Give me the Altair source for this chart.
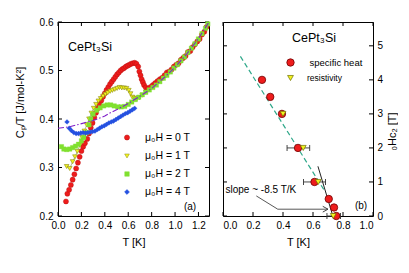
import altair as alt
import pandas as pd

FONT = "Liberation Sans"

# ---------------- Left panel: Cp/T vs T ----------------
red_T = [0.068, 0.08, 0.095, 0.11, 0.125, 0.14, 0.155, 0.17, 0.185, 0.2, 0.215, 0.23, 0.25, 0.265,
         0.28, 0.295, 0.31, 0.325, 0.34, 0.355, 0.37, 0.385, 0.4, 0.415, 0.43, 0.445, 0.46, 0.475,
         0.49, 0.505, 0.52, 0.535, 0.55, 0.565, 0.58, 0.595, 0.61, 0.625, 0.64, 0.655, 0.67, 0.685,
         0.695, 0.705, 0.715, 0.725, 0.735, 0.75, 0.77, 0.79, 0.81, 0.83, 0.85, 0.87, 0.89, 0.91,
         0.93, 0.95, 0.97, 0.99, 1.01, 1.03, 1.05, 1.07, 1.09, 1.11, 1.13, 1.15, 1.17, 1.19, 1.21,
         1.23, 1.25, 1.27]
red_v = [0.230, 0.246, 0.254, 0.264, 0.275, 0.286, 0.298, 0.310, 0.322, 0.334, 0.343, 0.350, 0.359, 0.370,
         0.382, 0.392, 0.403, 0.413, 0.422, 0.430, 0.438, 0.446, 0.453, 0.460, 0.466, 0.472, 0.477, 0.482,
         0.487, 0.492, 0.496, 0.500, 0.503, 0.505, 0.508, 0.510, 0.512, 0.514, 0.515, 0.516, 0.514, 0.508,
         0.498, 0.490, 0.482, 0.476, 0.470, 0.465, 0.463, 0.466, 0.470, 0.474, 0.478, 0.482, 0.485, 0.490,
         0.496, 0.498, 0.502, 0.508, 0.512, 0.515, 0.522, 0.526, 0.530, 0.538, 0.540, 0.548, 0.554, 0.560, 0.565,
         0.574, 0.580, 0.590]

yel_T = [0.074, 0.1, 0.125, 0.145, 0.165, 0.187, 0.205, 0.225, 0.245, 0.265, 0.285, 0.305, 0.325, 0.345,
         0.365, 0.385, 0.405, 0.425, 0.445, 0.465, 0.485, 0.505, 0.525, 0.545, 0.565, 0.585, 0.605, 0.62,
         0.635, 0.655, 0.675, 0.695, 0.72, 0.75]
yel_v = [0.302, 0.298, 0.312, 0.322, 0.333, 0.346, 0.362, 0.375, 0.388, 0.400, 0.412, 0.422, 0.430, 0.437,
         0.442, 0.447, 0.451, 0.454, 0.457, 0.459, 0.461, 0.463, 0.465, 0.464, 0.464, 0.463, 0.459, 0.452,
         0.445, 0.443, 0.442, 0.444, 0.449, 0.455]

grn_T = [0.03, 0.05, 0.074, 0.1, 0.125, 0.15, 0.175, 0.2, 0.22, 0.244, 0.265, 0.28, 0.3, 0.33, 0.36, 0.39,
         0.42, 0.45, 0.48, 0.51, 0.54, 0.57, 0.6, 0.63, 0.66, 0.69, 0.72, 0.75, 0.78, 0.81, 0.84, 0.87,
         0.9, 0.93, 0.96, 0.99, 1.02, 1.05, 1.08, 1.11, 1.14, 1.17, 1.2, 1.23, 1.26, 1.28]
grn_v = [0.343, 0.338, 0.337, 0.338, 0.341, 0.344, 0.348, 0.355, 0.362, 0.372, 0.388, 0.400, 0.410, 0.418,
         0.423, 0.427, 0.429, 0.429, 0.427, 0.425, 0.425, 0.426, 0.430, 0.435, 0.440, 0.445, 0.450, 0.455,
         0.460, 0.465, 0.470, 0.477, 0.484, 0.490, 0.497, 0.505, 0.512, 0.520, 0.528, 0.537, 0.546, 0.555,
         0.565, 0.576, 0.587, 0.596]

blu_T = [0.077, 0.096, 0.115, 0.135, 0.155, 0.175, 0.195, 0.215, 0.235, 0.255, 0.275, 0.295, 0.315, 0.335,
         0.355, 0.375, 0.395, 0.415, 0.435, 0.455, 0.475, 0.495, 0.515, 0.535, 0.555, 0.575, 0.595, 0.615,
         0.635, 0.655]
blu_v = [0.394, 0.381, 0.376, 0.372, 0.370, 0.370, 0.371, 0.372, 0.371, 0.372, 0.373, 0.374, 0.375, 0.378,
         0.381, 0.384, 0.386, 0.389, 0.392, 0.394, 0.396, 0.399, 0.402, 0.405, 0.408, 0.411, 0.413, 0.416,
         0.419, 0.422]

fitL_T = [0.0, 0.1, 0.21, 0.3, 0.4, 0.44, 0.5, 0.6, 0.64, 0.7, 0.8, 0.9, 0.95, 1.0, 1.1, 1.2, 1.285]
fitL_v = [0.381, 0.384, 0.391, 0.397, 0.406, 0.412, 0.419, 0.432, 0.438, 0.447, 0.463, 0.484, 0.495,
          0.507, 0.534, 0.566, 0.598]

legendL_labels = ["μ₀H = 0 T", "μ₀H = 1 T", "μ₀H = 2 T", "μ₀H = 4 T"]
xL_ticks = [0.0, 0.2, 0.4, 0.6, 0.8, 1.0, 1.2]
yL_ticks = [0.2, 0.3, 0.4, 0.5, 0.6]

# ---------------- Right panel: Hc2 vs T ----------------
sh_T = [0.26, 0.315, 0.393, 0.50, 0.61, 0.705, 0.74, 0.755]
sh_H = [4.0, 3.5, 3.0, 2.0, 1.0, 0.5, 0.25, 0.0]
res_T = [0.40, 0.535, 0.635, 0.735]
res_H = [3.0, 2.0, 1.0, 0.0]
eb_H = [2.0, 1.0, 0.0]
eb_lo = [0.427, 0.537, 0.693]
eb_hi = [0.578, 0.683, 0.783]
fitR_T = [0.116, 0.683]
fitR_H = [4.69, 0.70]
slope_T = [0.633, 0.731]
slope_H = [1.46, 0.02]
arrow_T = [0.222, 0.365, 0.700]
arrow_H = [0.59, 0.20, 0.20]
legendR_labels = ["specific heat", "resistivity"]
xR_ticks = [0.0, 0.2, 0.4, 0.6, 0.8, 1.0]
yR_ticks = [0, 1, 2, 3, 4, 5]

RED = "#ee1c1c"
YEL = "#f2f21e"
YEL_S = "#8c8c14"
GRN = "#80e030"
BLU = "#2450e0"
PUR = "#8020c8"
TEAL = "#2fa88a"

WL, HL = 151, 194
WR, HR = 150, 194
TK = 4

# ---- left encodings ----
sxL = alt.Scale(domain=[0, 1.29], nice=False, zero=False)
syL = alt.Scale(domain=[0.2, 0.6], nice=False, zero=False)
axL = alt.Axis(values=xL_ticks, format=".1f", title="T [K]", grid=False, ticks=False, tickSize=0,
               domain=False, labelPadding=4, labelFlush=False, titleY=26, titleBaseline="middle")
ayL = alt.Axis(values=yL_ticks, format=".1f", title="Cₚ/T [J/mol-K²]", grid=False, ticks=False,
               tickSize=0, domain=False, labelPadding=5, titleX=-38, titleY=80, titleAngle=270,
               titleBaseline="middle", titleAlign="center")
xL = alt.X("T:Q", scale=sxL, axis=axL)
yL = alt.Y("v:Q", scale=syL, axis=ayL)


def df(**kw):
    return pd.DataFrame(kw)


left_layers = []
# inward ticks
left_layers.append(alt.Chart(df(T=xL_ticks)).mark_rule(color="black", strokeWidth=1).encode(
    x=xL, y=alt.value(HL), y2=alt.value(HL - TK)))
left_layers.append(alt.Chart(df(T=xL_ticks)).mark_rule(color="black", strokeWidth=1).encode(
    x=xL, y=alt.value(0), y2=alt.value(TK)))
left_layers.append(alt.Chart(df(v=yL_ticks)).mark_rule(color="black", strokeWidth=1).encode(
    y=yL, x=alt.value(0), x2=alt.value(TK)))
left_layers.append(alt.Chart(df(v=yL_ticks)).mark_rule(color="black", strokeWidth=1).encode(
    y=yL, x=alt.value(WL), x2=alt.value(WL - TK)))

# data series
left_layers.append(alt.Chart(df(T=red_T, v=red_v)).mark_point(
    shape="circle", filled=True, fill=RED, stroke="#b01010", strokeWidth=0.4, size=26, opacity=1
).encode(x=xL, y=yL))
left_layers.append(alt.Chart(df(T=yel_T, v=yel_v)).mark_line(color="#8a8a50", strokeWidth=0.6).encode(
    x=xL, y=yL))
left_layers.append(alt.Chart(df(T=yel_T, v=yel_v)).mark_point(
    shape="triangle-down", filled=True, fill=YEL, stroke=YEL_S, strokeWidth=0.6, size=22, opacity=1
).encode(x=xL, y=yL))
left_layers.append(alt.Chart(df(T=grn_T, v=grn_v)).mark_point(
    shape="square", filled=True, fill=GRN, stroke=GRN, strokeWidth=0.3, size=20, opacity=1
).encode(x=xL, y=yL))
left_layers.append(alt.Chart(df(T=blu_T, v=blu_v)).mark_point(
    shape="diamond", filled=True, fill=BLU, stroke=BLU, strokeWidth=0.3, size=24, opacity=1
).encode(x=xL, y=yL))
left_layers.append(alt.Chart(df(T=fitL_T, v=fitL_v)).mark_line(
    color=PUR, strokeWidth=1.1, strokeDash=[6, 2, 1.5, 2]).encode(x=xL, y=yL))

# labels
left_layers.append(alt.Chart(df(t=["CePt₃Si"])).mark_text(
    align="left", baseline="middle", font=FONT, fontSize=12.5, color="black").encode(
    x=alt.value(10), y=alt.value(25), text="t:N"))
left_layers.append(alt.Chart(df(t=["(a)"])).mark_text(
    align="center", baseline="middle", font=FONT, fontSize=10, color="black").encode(
    x=alt.value(132), y=alt.value(185), text="t:N"))

leg_styles = [
    dict(shape="circle", fill=RED, stroke="#b01010", size=26),
    dict(shape="triangle-down", fill=YEL, stroke=YEL_S, size=22),
    dict(shape="square", fill=GRN, stroke=GRN, size=20),
    dict(shape="diamond", fill=BLU, stroke=BLU, size=24),
]
leg_y = [115.5, 134, 152, 170]
for lab, st, yy in zip(legendL_labels, leg_styles, leg_y):
    left_layers.append(alt.Chart(df(t=[lab])).mark_point(
        filled=True, strokeWidth=0.5, opacity=1, **st).encode(x=alt.value(69), y=alt.value(yy)))
    left_layers.append(alt.Chart(df(t=[lab])).mark_text(
        align="left", baseline="middle", font=FONT, fontSize=10.5, color="black").encode(
        x=alt.value(87), y=alt.value(yy), text="t:N"))

left = alt.layer(*left_layers).properties(width=WL, height=HL)

# ---- right encodings ----
sxR = alt.Scale(domain=[0, 1.0], nice=False, zero=False)
syR = alt.Scale(domain=[0, 5.7], nice=False, zero=False)
axR = alt.Axis(values=xR_ticks, format=".1f", title="T [K]", grid=False, ticks=False, tickSize=0,
               domain=False, labelPadding=4, labelFlush=True, titleY=26, titleBaseline="middle")
ayR = alt.Axis(values=yR_ticks, format="d", title="₀Hc₂ [T]", orient="right", grid=False, ticks=False,
               tickSize=0, domain=False, labelPadding=4, titleX=19, titleY=109, titleAngle=270,
               titleBaseline="middle", titleAlign="center")
xR = alt.X("T:Q", scale=sxR, axis=axR)
yR = alt.Y("H:Q", scale=syR, axis=ayR)

right_layers = []
right_layers.append(alt.Chart(df(T=xR_ticks)).mark_rule(color="black", strokeWidth=1).encode(
    x=xR, y=alt.value(HR), y2=alt.value(HR - TK)))
right_layers.append(alt.Chart(df(T=xR_ticks)).mark_rule(color="black", strokeWidth=1).encode(
    x=xR, y=alt.value(0), y2=alt.value(TK)))
right_layers.append(alt.Chart(df(H=yR_ticks)).mark_rule(color="black", strokeWidth=1).encode(
    y=yR, x=alt.value(0), x2=alt.value(TK)))
right_layers.append(alt.Chart(df(H=yR_ticks)).mark_rule(color="black", strokeWidth=1).encode(
    y=yR, x=alt.value(WR), x2=alt.value(WR - TK)))

right_layers.append(alt.Chart(df(T=fitR_T, H=fitR_H)).mark_line(
    color=TEAL, strokeWidth=1.2, strokeDash=[5, 3]).encode(x=xR, y=yR))
right_layers.append(alt.Chart(df(T=slope_T, H=slope_H)).mark_line(
    color="#222222", strokeWidth=1).encode(x=xR, y=yR))
right_layers.append(alt.Chart(df(T=arrow_T, H=arrow_H)).mark_line(
    color="#444444", strokeWidth=0.9).encode(x=xR, y=yR))
right_layers.append(alt.Chart(df(T=arrow_T[-1:], H=arrow_H[-1:])).mark_point(
    shape="M -1 -0.55 L 0 0 L -1 0.55", filled=False, stroke="#444444", strokeWidth=1, size=110,
    opacity=1).encode(x=xR, y=yR))
right_layers.append(alt.Chart(df(lo=eb_lo, hi=eb_hi, H=eb_H)).mark_rule(
    color="#333333", strokeWidth=0.9).encode(
    x=alt.X("lo:Q", scale=sxR, axis=axR), x2="hi:Q", y=yR))
right_layers.append(alt.Chart(df(T=eb_lo + eb_hi, H=eb_H + eb_H)).mark_tick(
    orient="vertical", color="#333333", thickness=0.9, size=6, opacity=1).encode(x=xR, y=yR))
right_layers.append(alt.Chart(df(T=sh_T, H=sh_H)).mark_point(
    shape="circle", filled=True, fill=RED, stroke="#700000", strokeWidth=0.8, size=55, opacity=1
).encode(x=xR, y=yR))
right_layers.append(alt.Chart(df(T=res_T, H=res_H)).mark_point(
    shape="triangle-down", filled=True, fill=YEL, stroke="#707000", strokeWidth=0.7, size=34, opacity=1
).encode(x=xR, y=yR))

right_layers.append(alt.Chart(df(t=["CePt₃Si"])).mark_text(
    align="left", baseline="middle", font=FONT, fontSize=12.5, color="black").encode(
    x=alt.value(69), y=alt.value(16), text="t:N"))
right_layers.append(alt.Chart(df(t=["(b)"])).mark_text(
    align="center", baseline="middle", font=FONT, fontSize=10, color="black").encode(
    x=alt.value(138), y=alt.value(184), text="t:N"))
right_layers.append(alt.Chart(df(t=["slope ~ -8.5 T/K"])).mark_text(
    align="left", baseline="middle", font=FONT, fontSize=10, color="black").encode(
    x=alt.value(2.5), y=alt.value(167.5), text="t:N"))
right_layers.append(alt.Chart(df(t=[legendR_labels[0]])).mark_point(
    shape="circle", filled=True, fill=RED, stroke="#700000", strokeWidth=0.8, size=55, opacity=1
).encode(x=alt.value(67.5), y=alt.value(40.5)))
right_layers.append(alt.Chart(df(t=[legendR_labels[1]])).mark_point(
    shape="triangle-down", filled=True, fill=YEL, stroke="#707000", strokeWidth=0.7, size=34, opacity=1
).encode(x=alt.value(67.5), y=alt.value(56)))
right_layers.append(alt.Chart(df(t=[legendR_labels[0]])).mark_text(
    align="left", baseline="middle", font=FONT, fontSize=9.5, color="black").encode(
    x=alt.value(86.5), y=alt.value(40.5), text="t:N"))
right_layers.append(alt.Chart(df(t=[legendR_labels[1]])).mark_text(
    align="left", baseline="middle", font=FONT, fontSize=8.5, color="black").encode(
    x=alt.value(84), y=alt.value(55.5), text="t:N"))

right = alt.layer(*right_layers).properties(width=WR, height=HR)

chart = alt.hconcat(left, right, spacing=10).properties(
    padding={"left": 5, "top": 8, "right": 0, "bottom": 0},
    background="white",
).configure_view(stroke="black", strokeWidth=1).configure_axis(
    labelFont=FONT, titleFont=FONT, labelFontSize=10, titleFontSize=11, titleFontWeight="normal",
    labelColor="black", titleColor="black")

chart.save("out.html", embed_options={"renderer": "svg", "actions": False})
